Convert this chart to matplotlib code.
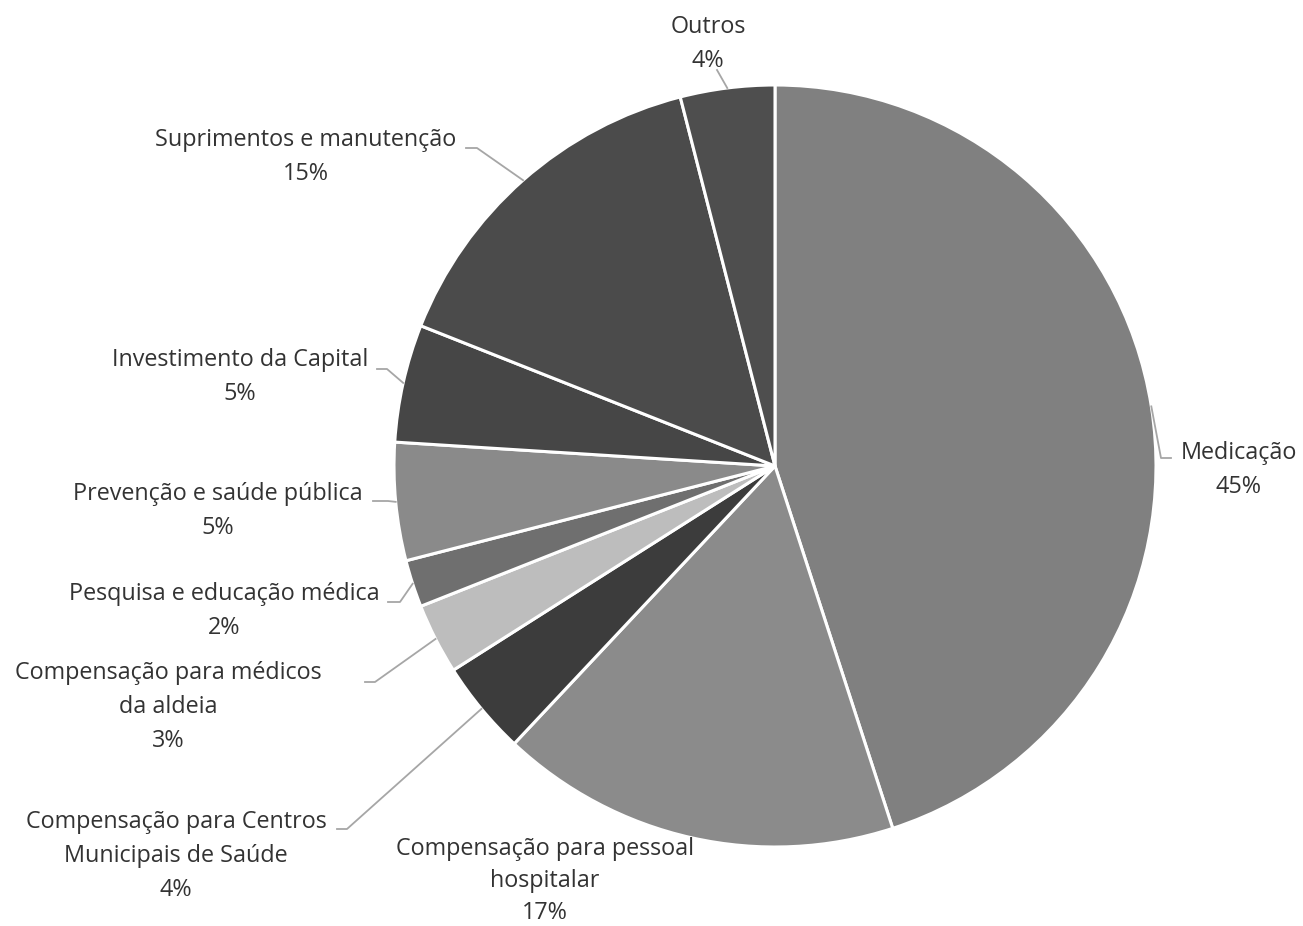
import numpy as np
import matplotlib.pyplot as plt

# dados
rotulos = ['Medicação', 'Compensação para pessoal\nhospitalar',
           'Compensação para Centros\nMunicipais de Saúde',
           'Compensação para médicos\nda aldeia',
           'Pesquisa e educação médica', 'Prevenção e saúde pública',
           'Investimento da Capital', 'Suprimentos e manutenção', 'Outros']
valores = [45, 17, 4, 3, 2, 5, 5, 15, 4]
cores = ['#808080', '#8b8b8b', '#3c3c3c', '#bdbdbd', '#6f6f6f',
         '#8a8a8a', '#464646', '#4b4b4b', '#4e4e4e']

W, H = 1303, 926
CX, CY, R = 775, 466, 381

# posicoes dos textos (centro do bloco) e das linhas de chamada, em pixels da imagem
pos_texto = [(1239, 470), (545, 881), (176, 856), (168, 707), (224, 611),
             (218, 511), (240, 377), (306, 157), (708, 44)]
cotovelo = [[(1161, 458), (1171, 458)], None, [(347, 829), (337, 829)],
            [(375, 682), (365, 682)], [(400, 602), (388, 602)],
            [(388, 501), (373, 501)], [(387, 369), (377, 369)],
            [(477, 148), (466, 148)], [(717, 70)]]


def y_(y):
    return H - y


fig = plt.figure(figsize=(W / 100, H / 100), dpi=100)
ax = fig.add_axes([0, 0, 1, 1])

wedges, _ = ax.pie(valores, colors=cores, startangle=90, counterclock=False,
                   center=(CX, y_(CY)), radius=R, frame=False,
                   wedgeprops=dict(edgecolor='white', linewidth=2.2))
ax.set_xlim(0, W)
ax.set_ylim(0, H)
ax.set_aspect('auto')
ax.axis('off')

for i, (w, lab, val, (tx, ty), pts) in enumerate(zip(wedges, rotulos, valores, pos_texto, cotovelo)):
    ax.text(tx, y_(ty), f'{lab}\n{val}%', ha='center', va='center',
            fontsize=16.8, family='Open Sans', color='#333333',
            linespacing=1.45 if i == 1 else 1.55)
    if pts is None:
        continue
    ang = np.deg2rad((w.theta1 + w.theta2) / 2)
    xs = [CX + R * np.cos(ang)] + [p[0] for p in pts]
    ys = [y_(CY) + R * np.sin(ang)] + [y_(p[1]) for p in pts]
    ax.plot(xs, ys, color='#a6a6a6', lw=1.3)

plt.savefig('out.png', dpi=100)
